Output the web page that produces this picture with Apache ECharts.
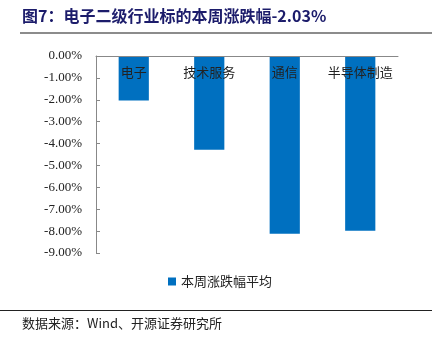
<!DOCTYPE html>
<html><head><meta charset="utf-8">
<script src="https://cdn.jsdelivr.net/npm/echarts@6/dist/echarts.min.js"></script>
<style>html,body{margin:0;padding:0;background:#fff}#c{width:440px;height:341px}</style>
</head><body><div id="c"></div>
<script>
const categories = ['电子', '技术服务', '通信', '半导体制造'];
const values = [-2.03, -4.28, -8.12, -7.98];
const seriesName = '本周涨跌幅平均';
const titleText = '图7：电子二级行业标的本周涨跌幅-2.03%';
const sourceText = '数据来源：Wind、开源证券研究所';

const chart = echarts.init(document.getElementById('c'), null, {renderer: 'canvas'});
chart.setOption({
  animation: false,
  backgroundColor: '#fff',
  graphic: [
    {type: 'text', left: 22, top: 8, style: {text: titleText, font: 'bold 16px "Noto Sans CJK SC"', fill: '#1c1c6b'}},
    {type: 'rect', shape: {x: 20, y: 32, width: 412, height: 2}, style: {fill: '#8c8c8c'}},
    {type: 'rect', shape: {x: 0, y: 310, width: 432, height: 1}, style: {fill: '#222'}},
    {type: 'text', left: 22, top: 317, style: {text: sourceText, font: '13px "Noto Sans CJK SC"', fill: '#222'}}
  ],
  legend: {
    data: [seriesName], bottom: 48, left: 'center', icon: 'rect', itemWidth: 8, itemHeight: 8, itemGap: 4,
    textStyle: {fontFamily: 'Noto Sans CJK SC', fontSize: 13, color: '#222'}
  },
  grid: {left: 96, right: 42, top: 56, bottom: 88},
  xAxis: {
    type: 'category', data: categories, position: 'top', z: 10,
    axisLine: {lineStyle: {color: '#888'}}, axisTick: {show: false},
    axisLabel: {inside: true, margin: 10, interval: 0, hideOverlap: false, color: '#222', fontFamily: 'Noto Sans CJK SC', fontSize: 13}
  },
  yAxis: {
    type: 'value', min: -9, max: 0, interval: 1,
    axisLine: {show: true, lineStyle: {color: '#888'}},
    axisTick: {show: true, inside: true, length: 4, lineStyle: {color: '#888'}},
    splitLine: {show: false},
    axisLabel: {margin: 14, color: '#222', fontFamily: 'Liberation Serif', fontSize: 13,
      formatter: v => v.toFixed(2) + '%'}
  },
  series: [{
    name: seriesName, type: 'bar', data: values, barWidth: '40%',
    itemStyle: {color: '#0070C0'}
  }]
});
</script></body></html>
